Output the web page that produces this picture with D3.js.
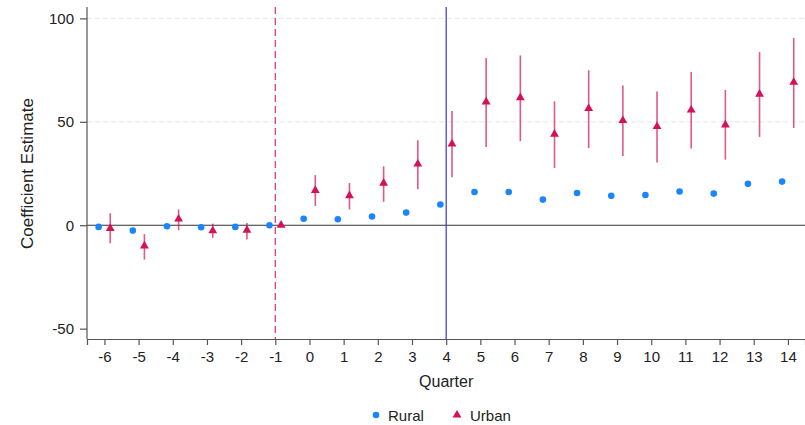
<!DOCTYPE html>
<html>
<head>
<meta charset="utf-8">
<script src="https://cdn.jsdelivr.net/npm/d3@7"></script>
<style>
  body { margin: 0; background: #fff; }
  text { font-family: "Liberation Sans", Arial, sans-serif; fill: #222; }
</style>
</head>
<body>
<div class="app"></div>
<script>
// Event-study estimates by quarter, rural vs urban.
var quarters = [-6, -5, -4, -3, -2, -1, 0, 1, 2, 3, 4, 5, 6, 7, 8, 9, 10, 11, 12, 13, 14];

var rural = [-0.8, -2.6, -0.5, -1.0, -0.8, 0, 3.1, 2.9, 4.2, 6.1, 10.0, 16.1, 16.1, 12.4, 15.6, 14.2, 14.6, 16.3, 15.3, 20.0, 21.1];

var urban   = [-1.5, -10.0, 3.0, -2.7, -2.4, 0, 16.8, 14.3, 20.3, 29.6, 39.3, 59.6, 61.7, 44.0, 56.4, 50.6, 47.7, 55.7, 48.5, 63.4, 69.1];
var urbanLo = [-8.7, -16.6, -2.4, -6.1, -6.9, 0, 9.3, 7.6, 11.3, 17.4, 23.2, 37.8, 40.6, 27.7, 37.3, 33.5, 30.3, 37.1, 31.7, 42.7, 47.0];
var urbanHi = [5.8, -4.3, 7.6, 0.8, 1.1, 0, 24.2, 20.4, 28.5, 41.1, 55.2, 80.8, 82.1, 59.9, 74.9, 67.5, 64.7, 74.1, 65.4, 83.7, 90.5];

var yTicks = [-50, 0, 50, 100];
var gridTicks = [50, 100];

var blue = "#1a85ff", red = "#d41159";

var W = 805, H = 425,
    margin = {top: 7, right: 0, bottom: 86, left: 87},
    width = W - margin.left - margin.right,
    height = H - margin.top - margin.bottom;

var svg = d3.select(".app").append("svg")
    .attr("width", W)
    .attr("height", H);

var x = d3.scaleLinear().domain([-6.51, 14.5]).range([0, width]);
var y = d3.scaleLinear().domain([-55, 105.5]).range([height, 0]);

var g = svg.append("g")
    .attr("transform", "translate(" + margin.left + "," + margin.top + ")");

// light dashed gridlines
g.selectAll(".grid")
    .data(gridTicks)
    .enter().append("line")
    .attr("x1", 0).attr("x2", width)
    .attr("y1", function(d){ return y(d); })
    .attr("y2", function(d){ return y(d); })
    .attr("stroke", "#e6e6e6")
    .attr("stroke-width", 1)
    .attr("stroke-dasharray", "5,3");

// zero line
g.append("line")
    .attr("x1", 0).attr("x2", width)
    .attr("y1", y(0)).attr("y2", y(0))
    .attr("stroke", "#333").attr("stroke-width", 1.2);

// reference quarter and treatment start
g.append("line")
    .attr("x1", x(-1)).attr("x2", x(-1))
    .attr("y1", 0).attr("y2", height)
    .attr("stroke", "#e0306a").attr("stroke-width", 1.2)
    .attr("stroke-dasharray", "7,4");

g.append("line")
    .attr("x1", x(4)).attr("x2", x(4))
    .attr("y1", 0).attr("y2", height)
    .attr("stroke", "#3535f0").attr("stroke-width", 1.2);

// axes -- plain hyphen for negatives
var fmt = function(d){ return String(d); };
var xAxis = d3.axisBottom(x).tickValues(quarters).tickSize(6).tickPadding(6)
    .tickFormat(fmt);
var yAxis = d3.axisLeft(y).tickValues(yTicks).tickSize(7).tickPadding(6)
    .tickFormat(fmt);

var gx = g.append("g")
    .attr("transform", "translate(0," + height + ")")
    .call(xAxis);
var gy = g.append("g").call(yAxis);

[gx, gy].forEach(function(a){
    a.select(".domain").attr("stroke", "#555").attr("stroke-width", 1.2);
    a.selectAll(".tick line").attr("stroke", "#555").attr("stroke-width", 1.2);
    a.selectAll(".tick text")
        .style("font-size", "15px")
        .style("font-family", "'Liberation Sans', Arial, sans-serif")
        .attr("fill", "#222");
});
// y axis spans the whole plot height
gy.select(".domain").attr("d", "M0," + 0 + "V" + height);

// urban confidence intervals
g.selectAll(".ci")
    .data(quarters)
    .enter().append("line")
    .attr("class", "ci")
    .attr("x1", function(d){ return x(d + 0.17); })
    .attr("x2", function(d){ return x(d + 0.17); })
    .attr("y1", function(d, i){ return y(urbanLo[i]); })
    .attr("y2", function(d, i){ return y(urbanHi[i]); })
    .attr("stroke", red)
    .attr("stroke-opacity", 0.7)
    .attr("stroke-width", 1.6);

// rural points
g.selectAll(".rural")
    .data(quarters)
    .enter().append("circle")
    .attr("cx", function(d){ return x(d - 0.17); })
    .attr("cy", function(d, i){ return y(rural[i]); })
    .attr("r", 3.3)
    .attr("fill", blue);

// urban points
var tri = d3.symbol().type(d3.symbolTriangle).size(34);
g.selectAll(".urban")
    .data(quarters)
    .enter().append("path")
    .attr("d", tri)
    .attr("transform", function(d, i){
        return "translate(" + x(d + 0.17) + "," + y(urban[i]) + ")";
    })
    .attr("fill", red);

// axis titles
svg.append("text")
    .attr("x", margin.left + x(4))
    .attr("y", 387)
    .attr("text-anchor", "middle")
    .style("font-size", "16px")
    .text("Quarter");

svg.append("text")
    .attr("transform", "translate(33," + (margin.top + 166.5) + ") rotate(-90)")
    .attr("text-anchor", "middle")
    .style("font-size", "17px")
    .text("Coefficient Estimate");

// legend
var legend = svg.append("g");
legend.append("circle")
    .attr("cx", 376).attr("cy", 415).attr("r", 3.3).attr("fill", blue);
legend.append("text")
    .attr("x", 388).attr("y", 421)
    .style("font-size", "15px")
    .text("Rural");
legend.append("path")
    .attr("d", tri)
    .attr("transform", "translate(457,415)")
    .attr("fill", red);
legend.append("text")
    .attr("x", 470).attr("y", 421)
    .style("font-size", "15px")
    .text("Urban");
</script>
</body>
</html>
